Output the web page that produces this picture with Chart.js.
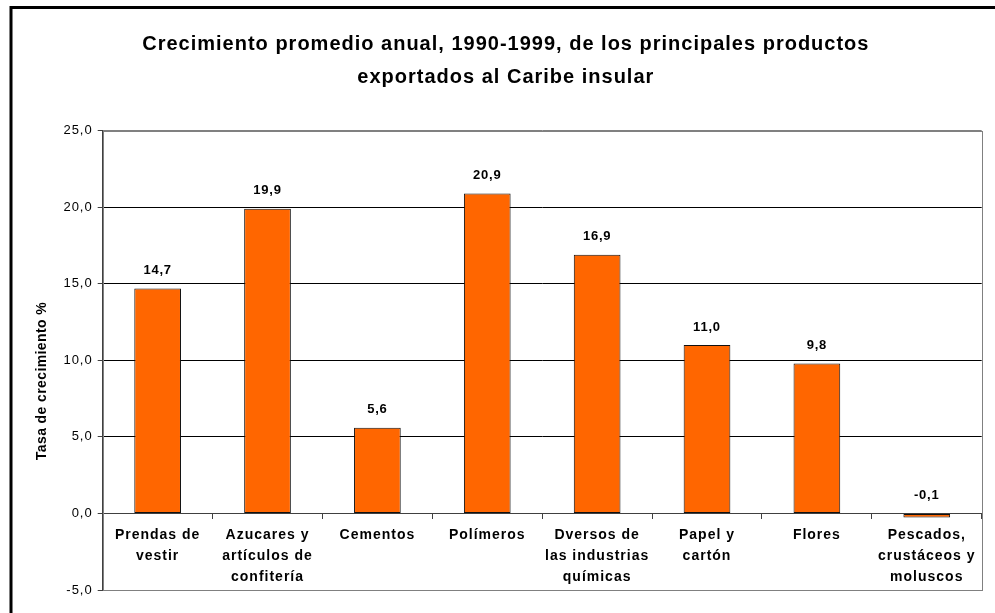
<!DOCTYPE html>
<html>
<head>
<meta charset="utf-8">
<script src="https://cdn.jsdelivr.net/npm/chart.js@4"></script>
<style>
  html, body { margin: 0; padding: 0; background: #fff; }
  #wrap { width: 995px; height: 613px; }
</style>
</head>
<body>
<div id="wrap"><canvas id="c" width="995" height="613"></canvas></div>
<script>
// ---- data ----
const categories = [
  ["Prendas de", "vestir"],
  ["Azucares y", "artículos de", "confitería"],
  ["Cementos"],
  ["Polímeros"],
  ["Dversos de", "las industrias", "químicas"],
  ["Papel y", "cartón"],
  ["Flores"],
  ["Pescados,", "crustáceos y", "moluscos"]
];
const growthValues = [14.7, 19.9, 5.6, 20.9, 16.9, 11.0, 9.8, -0.1];
const yTickValues = [-5, 0, 5, 10, 15, 20, 25];
const titleLines = ["Crecimiento promedio anual, 1990-1999, de los principales productos", "exportados al Caribe insular"];
const yAxisTitle = "Tasa de crecimiento %";

const FONT = "Arial, 'Liberation Sans', sans-serif";
const fmt = v => Number(v).toFixed(1).replace('.', ',');

const framePlugin = {
  id: 'frame',
  beforeDraw(chart) {
    const ctx = chart.ctx;
    ctx.save();
    ctx.fillStyle = '#fff';
    ctx.fillRect(0, 0, chart.width, chart.height);
    ctx.strokeStyle = '#000';
    ctx.lineWidth = 3;
    ctx.strokeRect(11, 7.5, chart.width + 20, chart.height + 20);
    ctx.restore();
    ctx.letterSpacing = '1px';
  },
  beforeDatasetsDraw(chart) {
    const ctx = chart.ctx;
    ctx.letterSpacing = '0px';
    const a = chart.chartArea;
    ctx.save();
    ctx.strokeStyle = '#808080';
    ctx.lineWidth = 1;
    ctx.strokeRect(Math.round(a.left) + 0.5, Math.round(a.top) + 0.5, Math.round(a.right - a.left), Math.round(a.bottom - a.top));
    ctx.restore();
  },
  afterDatasetsDraw(chart) {
    const ctx = chart.ctx;
    const yScale = chart.scales.y;
    const meta = chart.getDatasetMeta(0);
    ctx.save();
    ctx.letterSpacing = '0.8px';
    ctx.fillStyle = '#000';
    ctx.font = "bold 13px " + FONT;
    ctx.textAlign = 'center';
    ctx.textBaseline = 'middle';
    meta.data.forEach((bar, i) => {
      const v = growthValues[i];
      const y = yScale.getPixelForValue(Math.max(v, 0)) - 18;
      ctx.fillText(fmt(v), bar.x, y);
    });
    // y axis title
    ctx.letterSpacing = '0.4px';
    ctx.translate(42, 381);
    ctx.rotate(-Math.PI / 2);
    ctx.font = "bold 14px " + FONT;
    ctx.fillText(yAxisTitle, 0, 0);
    ctx.restore();
    ctx.letterSpacing = '1.2px';
  },
  afterDraw(chart) {
    chart.ctx.letterSpacing = '0px';
  }
};

new Chart(document.getElementById('c'), {
  type: 'bar',
  data: {
    labels: categories,
    datasets: [{
      data: growthValues,
      backgroundColor: '#FF6600',
      borderColor: '#111111',
      borderWidth: 1,
      borderSkipped: false,
      minBarLength: 4,
      categoryPercentage: 1.0,
      barPercentage: 0.425
    }]
  },
  options: {
    responsive: false,
    animation: false,
    devicePixelRatio: 1,
    layout: { padding: { left: 30, right: 13.3, top: 0, bottom: 23 } },
    plugins: {
      legend: { display: false },
      tooltip: { enabled: false },
      title: {
        display: true,
        text: titleLines,
        color: '#000',
        font: { family: FONT, size: 20, weight: 'bold', lineHeight: 1.65 },
        padding: { top: 27.5, bottom: 37.2 }
      }
    },
    scales: {
      x: {
        position: { y: 0 },
        z: 1,
        grid: {
          offset: true,
          drawOnChartArea: false,
          drawTicks: true,
          tickLength: 5,
          tickColor: '#404040'
        },
        border: { display: true, color: '#404040', width: 1 },
        ticks: {
          autoSkip: false,
          maxRotation: 0,
          minRotation: 0,
          padding: 6,
          color: '#000',
          font: { family: FONT, size: 14, weight: 'bold', lineHeight: 1.5 }
        }
      },
      y: {
        min: -5,
        max: 25,
        afterBuildTicks(scale) { scale.ticks = yTickValues.map(v => ({ value: v })); },
        afterFit(scale) { scale.width = 72.7; },
        grid: {
          color: c => (c.tick && (c.tick.value === 25 || c.tick.value === -5)) ? '#808080' : '#000',
          lineWidth: 1,
          drawTicks: true,
          tickLength: 5,
          tickColor: '#404040'
        },
        border: { display: true, color: '#404040', width: 1 },
        ticks: {
          padding: 5,
          color: '#000',
          font: { family: FONT, size: 13 },
          callback: v => fmt(v)
        }
      }
    }
  },
  plugins: [framePlugin]
});
</script>
</body>
</html>
